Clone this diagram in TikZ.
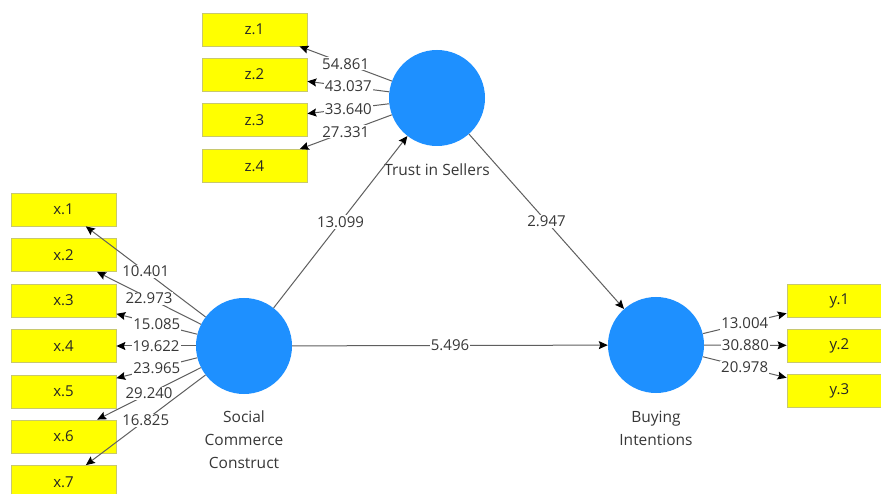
\documentclass[tikz,border=0pt]{standalone}
\usepackage{fontspec}
\setmainfont{Open Sans}
\usetikzlibrary{arrows.meta}
\definecolor{lvblue}{RGB}{30,144,255}
\definecolor{mvyellow}{RGB}{255,255,0}
\definecolor{mvedge}{RGB}{200,200,110}
\definecolor{linkgray}{RGB}{95,95,95}
\definecolor{labelgray}{RGB}{55,55,55}
\begin{document}
\begin{tikzpicture}[x=1pt,y=-1pt,
  latent/.style={circle, fill=lvblue, minimum size=96pt, inner sep=0pt},
  indicator/.style={rectangle, fill=mvyellow, draw=mvedge, line width=0.8pt,
    minimum width=105pt, minimum height=33pt, inner sep=0pt,
    font=\fontsize{15}{17}\selectfont, text=black!85},
  link/.style={draw=linkgray, line width=1pt,
    -{Stealth[length=9pt,width=8pt,inset=1.5pt,color=black]}},
  coef/.style={midway, fill=white, inner sep=1pt,
    font=\fontsize{15}{17}\selectfont, text=labelgray},
  caption/.style={align=center, font=\fontsize{15.5}{23}\selectfont, text=labelgray}
]
\clip (0,0) rectangle (881,494);
\fill[white] (0,0) rectangle (881,494);

% latent variables
\node[latent] (trust) at (437,98) {};
\node[latent] (scc)   at (244,346) {};
\node[latent] (bi)    at (656,345) {};

\node[caption] (trustcap) at (437,170) {Trust in Sellers};
\node[caption] (scccap)   at (244,440) {Social\\Commerce\\Construct};
\node[caption] (bicap)    at (656,428) {Buying\\Intentions};

% indicators of Trust in Sellers
\node[indicator] (z1) at (254.5,29.5) {z.1};
\node[indicator] (z2) at (254.5,74.5) {z.2};
\node[indicator] (z3) at (254.5,120)  {z.3};
\node[indicator] (z4) at (254.5,166)  {z.4};

% indicators of Social Commerce Construct
\node[indicator] (x1) at (63.5,209.5) {x.1};
\node[indicator] (x2) at (63.5,255)   {x.2};
\node[indicator] (x3) at (63.5,300.5) {x.3};
\node[indicator] (x4) at (63.5,346)   {x.4};
\node[indicator] (x5) at (63.5,391.5) {x.5};
\node[indicator] (x6) at (63.5,436.5) {x.6};
\node[indicator] (x7) at (63.5,482)   {x.7};

% indicators of Buying Intentions
\node[indicator] (y1) at (839.5,300.5) {y.1};
\node[indicator] (y2) at (839.5,345.5) {y.2};
\node[indicator] (y3) at (839.5,391)   {y.3};

% outer loadings
\draw[link] (trust) -- node[coef] {54.861} (z1);
\draw[link] (trust) -- node[coef] {43.037} (z2);
\draw[link] (trust) -- node[coef] {33.640} (z3);
\draw[link] (trust) -- node[coef] {27.331} (z4);

\draw[link] (scc) -- node[coef] {10.401} (x1);
\draw[link] (scc) -- node[coef] {22.973} (x2);
\draw[link] (scc) -- node[coef] {15.085} (x3);
\draw[link] (scc) -- node[coef] {19.622} (x4);
\draw[link] (scc) -- node[coef] {23.965} (x5);
\draw[link] (scc) -- node[coef] {29.240} (x6);
\draw[link] (scc) -- node[coef] {16.825} (x7);

\draw[link] (bi) -- node[coef] {13.004} (y1);
\draw[link] (bi) -- node[coef] {30.880} (y2);
\draw[link] (bi) -- node[coef] {20.978} (y3);

% structural paths
\draw[link] (scc) -- node[coef] {13.099} (trust);
\draw[link] (trust) -- node[coef] {2.947} (bi);
\draw[link] (scc) -- node[coef] {5.496} (bi);
\end{tikzpicture}
\end{document}
